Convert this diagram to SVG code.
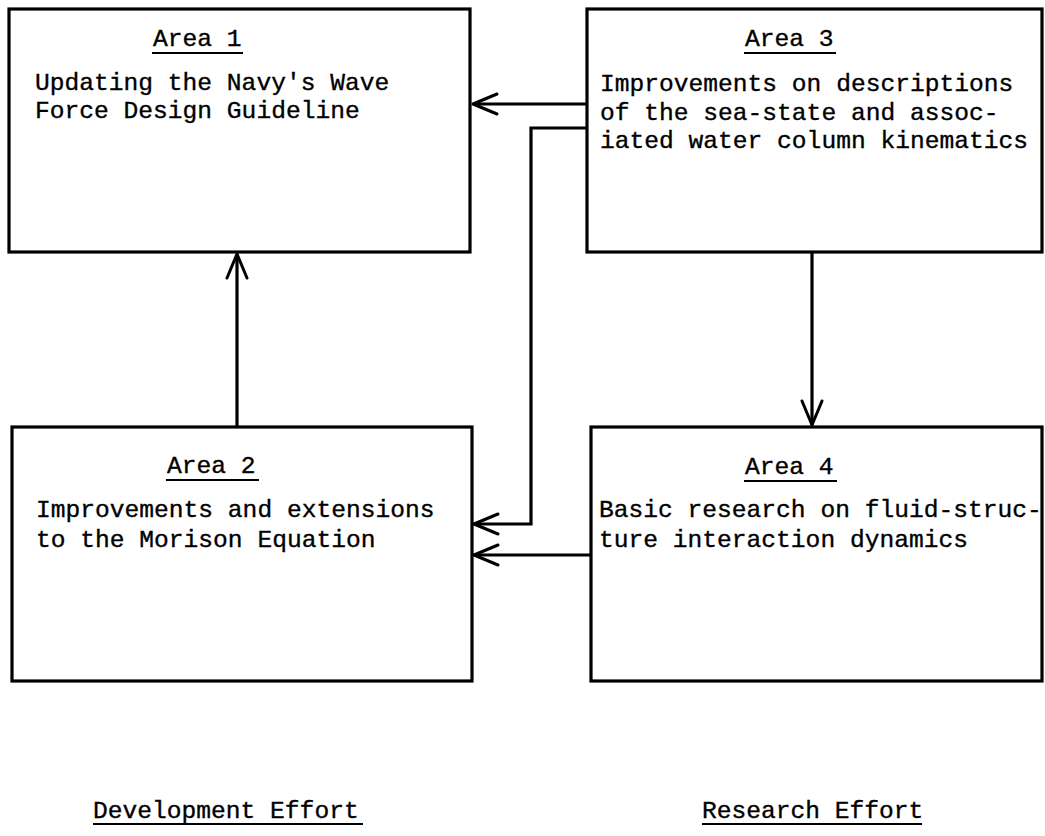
<svg xmlns="http://www.w3.org/2000/svg" width="1045" height="836" viewBox="0 0 1045 836">
<defs>
<marker id="arr" markerUnits="userSpaceOnUse" markerWidth="40" markerHeight="40" viewBox="-30 -15 40 30" refX="0" refY="0" orient="auto">
<path d="M -24 -10 L 0 0 L -24 10" fill="none" stroke="#000" stroke-width="3" stroke-linecap="round" stroke-linejoin="round"/>
</marker>
</defs>
<style>
.box{fill:#fff;stroke:#000;stroke-width:3.2}
.t{font-family:"Liberation Mono","Courier New",monospace;font-size:24.6px;fill:#000;stroke:#000;stroke-width:0.35}
.u{stroke:#000;stroke-width:2.2}
.c{fill:none;stroke:#000;stroke-width:3.2;marker-end:url(#arr)}
</style>
<rect width="1045" height="836" fill="#fff"/>
<g id="area1">
<rect class="box" x="9" y="9" width="461" height="243"/>
<text class="t" x="153" y="46">Area 1</text>
<line class="u" x1="152" y1="53" x2="243" y2="53"/>
<text class="t" x="35" y="90">Updating the Navy's Wave</text>
<text class="t" x="35" y="118">Force Design Guideline</text>
</g>
<g id="area3">
<rect class="box" x="587" y="9" width="455" height="243"/>
<text class="t" x="745" y="46">Area 3</text>
<line class="u" x1="744" y1="53" x2="836" y2="53"/>
<text class="t" x="600" y="91">Improvements on descriptions</text>
<text class="t" x="600" y="120">of the sea-state and assoc-</text>
<text class="t" x="600" y="148">iated water column kinematics</text>
</g>
<g id="area2">
<rect class="box" x="12" y="427" width="460" height="254"/>
<text class="t" x="167" y="473">Area 2</text>
<line class="u" x1="166" y1="480" x2="259" y2="480"/>
<text class="t" x="36" y="517">Improvements and extensions</text>
<text class="t" x="36" y="547">to the Morison Equation</text>
</g>
<g id="area4">
<rect class="box" x="591" y="427" width="451" height="254"/>
<text class="t" x="745" y="474">Area 4</text>
<line class="u" x1="744" y1="481" x2="837" y2="481"/>
<text class="t" x="599" y="517">Basic research on fluid-struc-</text>
<text class="t" x="599" y="547">ture interaction dynamics</text>
</g>
<g id="labels">
<text class="t" x="93" y="818">Development Effort</text>
<line class="u" x1="93" y1="824" x2="363" y2="824"/>
<text class="t" x="702" y="818">Research Effort</text>
<line class="u" x1="702" y1="824" x2="922" y2="824"/>
</g>
<g id="connectors">
<polyline class="c" points="587,104 473,104"/>
<polyline class="c" points="587,128 531,128 531,524 474,524"/>
<polyline class="c" points="591,555 474,555"/>
<polyline class="c" points="237,427 237,254"/>
<polyline class="c" points="812,252 812,425"/>
</g>
</svg>
